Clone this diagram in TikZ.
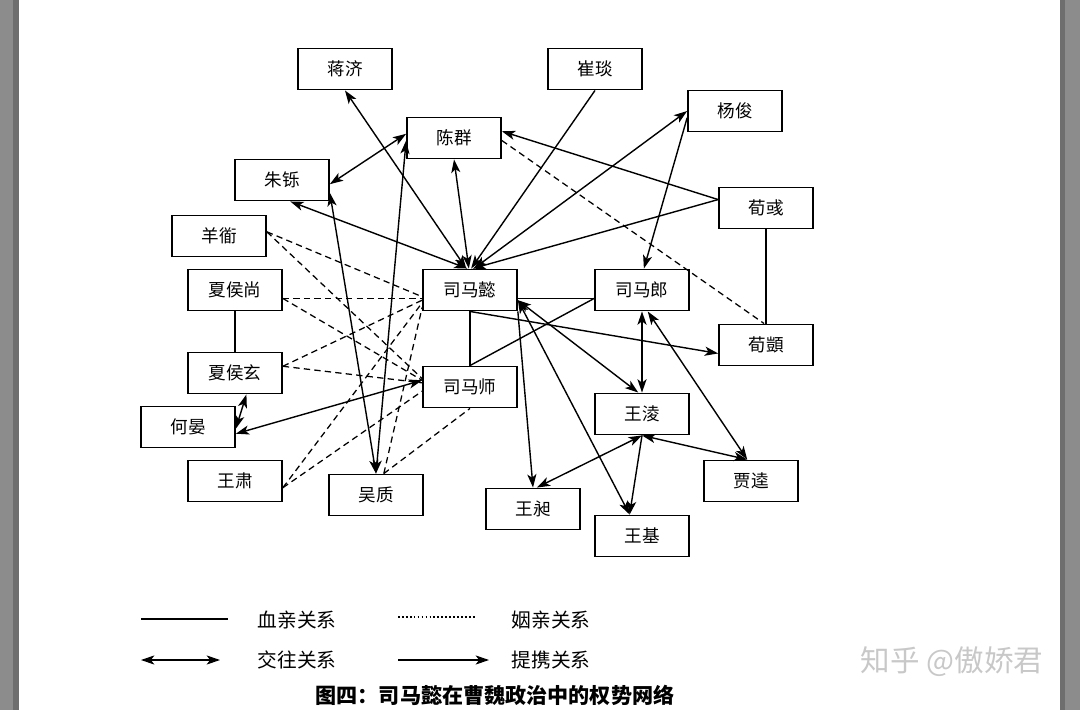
\documentclass[tikz,border=0pt]{standalone}
\usepackage{fontspec}
\setmainfont{Noto Sans CJK SC}
\usetikzlibrary{arrows.meta}

\definecolor{edgegray}{HTML}{8C8C8C}
\definecolor{edgedark}{HTML}{6E6E6E}
\definecolor{markgray}{HTML}{C8C8C8}

\tikzset{
  person/.style={draw, line width=1.2pt, minimum width=2.35cm, minimum height=1.03cm,
    inner sep=0pt, font=\fontsize{12.5}{14}\selectfont},
  blood/.style={line width=1pt},
  marriage/.style={line width=0.9pt, dash pattern=on 4.5pt off 3pt},
  contact/.style={line width=1pt, <->},
  promote/.style={line width=1pt, ->},
  legtext/.style={font=\fontsize{14}{16}\selectfont}
}

\begin{document}
\begin{tikzpicture}[x=0.025cm, y=-0.025cm, >={Stealth[length=9.5pt,width=6.5pt,inset=2.5pt]}]
  \useasboundingbox (0,0) rectangle (1080,710);

  % page edges
  \fill[edgegray] (0,0) rectangle (13,710);
  \fill[edgedark] (13,0) rectangle (19,710);
  \fill[edgedark] (1060,0) rectangle (1065,710);
  \fill[edgegray] (1065,0) rectangle (1080,710);

  % people
  \node[person] (jj)  at (345,69)  {蒋济};
  \node[person] (cy)  at (595,69)  {崔琰};
  \node[person] (cq)  at (454,138) {陈群};
  \node[person] (yj)  at (735,111) {杨俊};
  \node[person] (zs)  at (282,180) {朱铄};
  \node[person] (xy)  at (766,208) {荀彧};
  \node[person] (yh)  at (219,236) {羊衜};
  \node[person] (xhs) at (235,290) {夏侯尚};
  \node[person] (smy) at (470,290) {司马懿};
  \node[person] (sml) at (642,290) {司马郎};
  \node[person] (xyi) at (766,345) {荀顗};
  \node[person] (xhx) at (235,373) {夏侯玄};
  \node[person] (sms) at (470,387) {司马师};
  \node[person] (wl)  at (642,414) {王淩};
  \node[person] (hy)  at (188,427) {何晏};
  \node[person] (jk)  at (751,481) {贾逵};
  \node[person] (ws)  at (235,481) {王肃};
  \node[person] (wz)  at (376,495) {吴质};
  \node[person] (wc)  at (533,509) {王昶};
  \node[person] (wj)  at (642,536) {王基};

  % blood ties
  \draw[blood] (xhs.south) -- (xhx.north);
  \draw[blood] (smy.south) -- (sms.north);
  \draw[blood] (smy.-10) -- (sml.190);
  \draw[blood] (sms.north) -- (sml.190);
  \draw[blood] (xy.south) -- (xyi.north);

  % marriage ties
  \draw[marriage] (yh.5) -- (smy.-172);
  \draw[marriage] (yh.5) -- (sms.170);
  \draw[marriage] (xhs.-10) -- (smy.-170);
  \draw[marriage] (xhs.-10) -- (sms.172);
  \draw[marriage] (xhx.8) -- (smy.-168);
  \draw[marriage] (xhx.8) -- (sms.175);
  \draw[marriage] (ws.-8) -- (smy.-165);
  \draw[marriage] (ws.-8) -- (sms.-175);
  \draw[marriage] (wz.70) -- (smy.-160);
  \draw[marriage] (wz.70) -- (sms.south);
  \draw[marriage] (cq.-3) -- (xyi.95);

  % contacts
  \draw[contact] (jj.south) -- (smy.100);
  \draw[contact] (zs.-69) -- (smy.97);
  \draw[contact] (cq.south) -- (smy.93);
  \draw[contact] (yj.west) -- (smy.80);
  \draw[contact] (zs.-5) -- (cq.175);
  \draw[contact] (zs.-15) -- (wz.north);
  \draw[contact] (cq.183) -- (wz.north);
  \draw[contact] (xhx.-62) -- (hy.-2);
  \draw[contact] (hy.-8) -- (sms.172);
  \draw[contact] (smy.-12) -- (wl.100);
  \draw[contact] (smy.-12) -- (wj.120);
  \draw[contact] (sml.south) -- (wl.north);
  \draw[contact] (sml.-75) -- (jk.100);
  \draw[contact] (wl.south) -- (wc.80);
  \draw[contact] (wl.south) -- (jk.100);

  % promotions
  \draw[promote] (cy.south) -- (smy.87);
  \draw[promote] (xy.170) -- (smy.83);
  \draw[promote] (xy.170) -- (cq.8);
  \draw[promote] (yj.188) -- (sml.85);
  \draw[promote] (smy.south) -- (xyi.190);
  \draw[promote] (smy.south east) -- (wc.north);
  \draw[promote] (wl.south) -- (wj.120);

  % legend
  \coordinate (bloodA) at (141,619);
  \coordinate (bloodB) at (228,619);
  \coordinate (marryA) at (398,617);
  \coordinate (marryB) at (476,617);
  \coordinate (meetA) at (141,660);
  \coordinate (meetB) at (220,660);
  \coordinate (liftA) at (398,660);
  \coordinate (liftB) at (489,660);
  \draw[blood] (bloodA) -- (bloodB);
  \draw[line width=0.8pt, dash pattern=on 1.2pt off 1.6pt] (marryA) -- (marryB);
  \draw[contact] (meetA) -- (meetB);
  \draw[promote] (liftA) -- (liftB);
  \node[legtext] (bloodtxt) at (297,620) {血亲关系};
  \node[legtext] (marrytxt) at (551,620) {姻亲关系};
  \node[legtext] (meettxt) at (297,660) {交往关系};
  \node[legtext] (lifttxt) at (551,660) {提携关系};

  % caption and mark
  \node[font=\fontsize{15}{17}\selectfont\bfseries] (caption) at (495,695) {图四：司马懿在曹魏政治中的权势网络};
  \node[font=\fontsize{21}{24}\selectfont, text=markgray] (mark) at (952,662) {知乎 @傲娇君};
\end{tikzpicture}
\end{document}
